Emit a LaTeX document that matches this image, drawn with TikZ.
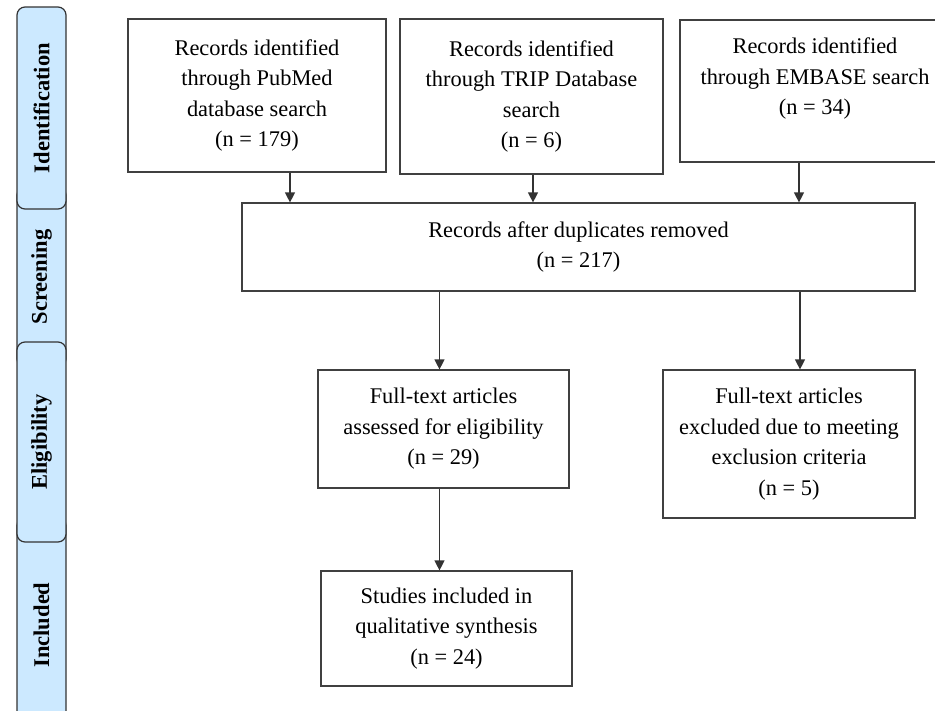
\documentclass[tikz,border=0pt]{standalone}
\usepackage{fontspec}
\setmainfont{Liberation Serif}
\usetikzlibrary{arrows.meta}

\definecolor{tabblue}{RGB}{204,233,255}

\tikzset{
  box/.style={draw=black!75, line width=1.2pt, align=center,
    font=\fontsize{22.4}{30.5}\selectfont},
  tab/.style={draw=black!80, line width=1.2pt, fill=tabblue,
    rounded corners=8pt, rotate=90, minimum height=49pt,
    font=\bfseries\fontsize{22.5}{26}\selectfont},
  arr/.style={draw=black!80, line width=1.2pt,
    -{Triangle[width=10pt,length=10pt]}}
}

\begin{document}
\begin{tikzpicture}[x=1pt, y=-1pt]
    \clip (0,0) rectangle (935,710);
    \fill[white] (0,0) rectangle (935,710);

    % Stage tabs
    \node[tab, minimum width=215pt] (incl) at (41.5,625) {Included};
    \node[tab, minimum width=180pt] (scr) at (41.5,277) {Screening};
    \node[tab, minimum width=202pt] (ident) at (41.5,108) {Identification};
    \node[tab, minimum width=200pt] (elig) at (41.5,442) {Eligibility};

    % Sources
    \node[box, minimum width=258pt, minimum height=153pt] (pubmed) at (257,95.5)
        {Records identified\\through PubMed\\database search\\(n = 179)};
    \node[box, minimum width=263pt, minimum height=155pt] (trip) at (531.5,96.5)
        {Records identified\\through TRIP Database\\search\\(n = 6)};
    \node[box, minimum width=270pt, minimum height=142pt, text depth=29pt] (embase) at (815,91)
        {Records identified\\through EMBASE search\\(n = 34)};

    % Screening and selection
    \node[box, minimum width=673pt, minimum height=88pt] (merged) at (578.5,247)
        {Records after duplicates removed\\(n = 217)};
    \node[box, minimum width=251pt, minimum height=118pt] (fulltext) at (443.5,429)
        {Full-text articles\\assessed for eligibility\\(n = 29)};
    \node[box, minimum width=252pt, minimum height=148pt] (excluded) at (789,444)
        {Full-text articles\\excluded due to meeting\\exclusion criteria\\(n = 5)};
    \node[box, minimum width=251pt, minimum height=115pt] (studies) at (446.5,628.5)
        {Studies included in\\qualitative synthesis\\(n = 24)};

    % Arrows
    \draw[arr] ([xshift=33pt]pubmed.south) -- ([xshift=33pt]pubmed.south |- merged.north);
    \draw[arr] ([xshift=1.5pt]trip.south) -- ([xshift=1.5pt]trip.south |- merged.north);
    \draw[arr] ([xshift=-16pt]embase.south) -- ([xshift=-16pt]embase.south |- merged.north);
    \draw[arr] ([xshift=-4pt]fulltext.north |- merged.south) -- ([xshift=-4pt]fulltext.north);
    \draw[arr] ([xshift=11pt]excluded.north |- merged.south) -- ([xshift=11pt]excluded.north);
    \draw[arr] ([xshift=-4pt]fulltext.south) -- ([xshift=-4pt]fulltext.south |- studies.north);
\end{tikzpicture}
\end{document}
